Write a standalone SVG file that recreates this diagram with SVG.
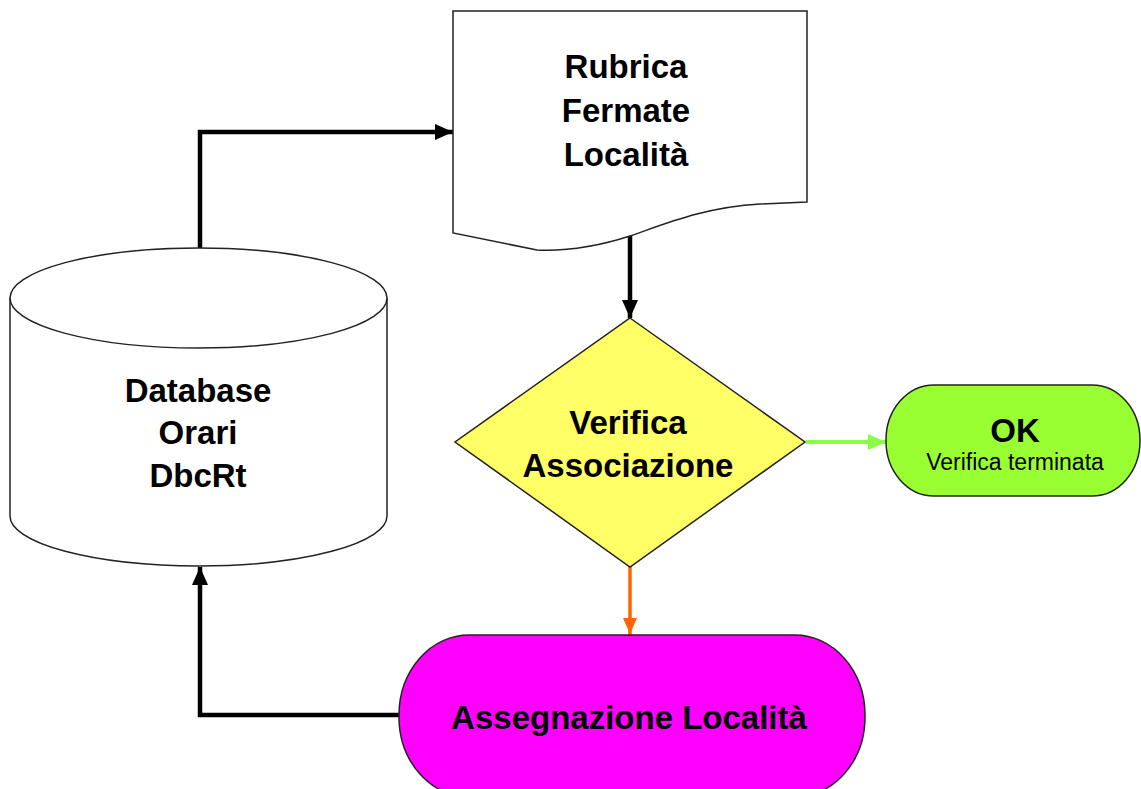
<svg xmlns="http://www.w3.org/2000/svg" width="1141" height="789" viewBox="0 0 1141 789">
<style>
.shape{stroke:#222;stroke-width:1.5}
.bt{font-family:"Liberation Sans",Arial,sans-serif;font-weight:bold;font-size:33px;fill:#000;text-anchor:middle}
.rt{font-family:"Liberation Sans",Arial,sans-serif;font-size:23px;fill:#000;text-anchor:middle}
.conn{fill:none;stroke-linejoin:miter}
</style>
<defs>
<marker id="ahBlack" markerUnits="userSpaceOnUse" markerWidth="20" markerHeight="20" refX="18" refY="10" orient="auto"><path d="M0,2 L18,10 L0,18 z" fill="#000"/></marker>
<marker id="ahGreen" markerUnits="userSpaceOnUse" markerWidth="20" markerHeight="20" refX="18" refY="10" orient="auto"><path d="M0,2 L18,10 L0,18 z" fill="#88ff44"/></marker>
<marker id="ahOrange" markerUnits="userSpaceOnUse" markerWidth="20" markerHeight="20" refX="18" refY="10" orient="auto"><path d="M1,3 L17,10 L1,17 z" fill="#ff6600"/></marker>
</defs>
<rect width="1141" height="789" fill="#fff"/>
<g id="connectors">
<path class="conn" d="M200,250 V132 H453" stroke="#000" stroke-width="4.5" marker-end="url(#ahBlack)"/>
<path class="conn" d="M630,236 V318" stroke="#000" stroke-width="4.5" marker-end="url(#ahBlack)"/>
<path class="conn" d="M806,442 H886" stroke="#88ff44" stroke-width="4" marker-end="url(#ahGreen)"/>
<path class="conn" d="M630,567 V635" stroke="#ff6600" stroke-width="3.5" marker-end="url(#ahOrange)"/>
<path class="conn" d="M400,715 H200 V567" stroke="#000" stroke-width="4.5" marker-end="url(#ahBlack)"/>
</g>
<g id="node-rubrica">
<path class="shape" fill="#fff" d="M453,11 H807 V202 L760,204 C705,207 665,224 630,236 C590,249 560,251 537,250 L453,233 Z"/>
<text class="bt" x="626" y="78">Rubrica</text>
<text class="bt" x="626" y="122">Fermate</text>
<text class="bt" x="626" y="166">Località</text>
</g>
<g id="node-database">
<path class="shape" fill="#fff" d="M10,298 V516 A188.5,50 0 0 0 387,516 V298"/>
<ellipse class="shape" fill="#fff" cx="198.5" cy="298" rx="188.5" ry="50"/>
<text class="bt" x="198" y="402">Database</text>
<text class="bt" x="198" y="444">Orari</text>
<text class="bt" x="198" y="487">DbcRt</text>
</g>
<g id="node-verifica">
<polygon class="shape" fill="#ffff66" points="630,318 805,442 630,567 455,442"/>
<text class="bt" x="628" y="434">Verifica</text>
<text class="bt" x="628" y="477">Associazione</text>
</g>
<g id="node-ok">
<rect class="shape" fill="#99ff33" x="886" y="385" width="254" height="111" rx="48" ry="55"/>
<text class="bt" x="1015" y="442">OK</text>
<text class="rt" x="1015" y="470">Verifica terminata</text>
</g>
<g id="node-assegnazione">
<rect class="shape" fill="#ff00ff" x="399" y="635" width="466" height="162" rx="70" ry="80"/>
<text class="bt" x="629" y="729">Assegnazione Località</text>
</g>
</svg>
